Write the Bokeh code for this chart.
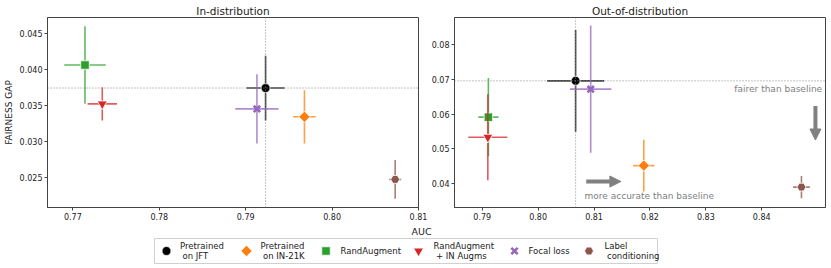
from bokeh.plotting import figure
from bokeh.models import Range1d, FixedTicker, Span, Label, Arrow, NormalHead
from bokeh.layouts import column, row
from bokeh.embed import file_html
from bokeh.resources import INLINE
from bokeh.core.properties import value

# ---------------- data ----------------
methods = ["Pretrained on JFT", "Pretrained on IN-21K", "RandAugment",
           "RandAugment + IN Augms", "Focal loss", "Label conditioning"]
legend_lines = [["Pretrained", "on JFT"], ["Pretrained", "on IN-21K"], ["RandAugment"],
                ["RandAugment", "+ IN Augms"], ["Focal loss"], ["Label", "conditioning"]]

# In-distribution
auc_id = [0.7923, 0.7968, 0.7714, 0.7734, 0.7913, 0.8073]
auc_id_err = [0.0022, 0.0013, 0.0024, 0.0017, 0.0025, 0.0007]
gap_id = [0.0374, 0.0334, 0.0406, 0.0352, 0.0345, 0.0247]
gap_id_err = [0.0045, 0.0037, 0.0054, 0.0023, 0.0048, 0.0027]

# Out-of-distribution
auc_ood = [0.8067, 0.8189, 0.7911, 0.7910, 0.8094, 0.8471]
auc_ood_err = [0.0051, 0.0019, 0.0018, 0.0035, 0.0037, 0.0015]
gap_ood = [0.0696, 0.0451, 0.0591, 0.0533, 0.0672, 0.0389]
gap_ood_err = [0.0147, 0.0075, 0.0113, 0.0124, 0.0184, 0.0032]

id_x_ticks = [0.77, 0.78, 0.79, 0.80, 0.81]
id_x_labels = ["0.77", "0.78", "0.79", "0.80", "0.81"]
id_y_ticks = [0.025, 0.030, 0.035, 0.040, 0.045]
id_y_labels = ["0.025", "0.030", "0.035", "0.040", "0.045"]
ood_x_ticks = [0.79, 0.80, 0.81, 0.82, 0.83, 0.84]
ood_x_labels = ["0.79", "0.80", "0.81", "0.82", "0.83", "0.84"]
ood_y_ticks = [0.04, 0.05, 0.06, 0.07, 0.08]
ood_y_labels = ["0.04", "0.05", "0.06", "0.07", "0.08"]

# ---------------- styles ----------------
colors = ["#000000", "#ff7f0e", "#2ca02c", "#d62728", "#9467bd", "#8c564b"]
markers = ["circle", "square", "square", "inverted_triangle", "x", "hex"]
angles = [0, 0.7854, 0, 0, 0, 0]
sizes = [9, 8, 8.5, 10, 9, 9]
FONT = "DejaVu Sans"
AX = "#444444"
TXT = "#222222"


def make_panel(title, auc, auc_err, gap, gap_err, xr, yr, xt, xl, yt, yl,
               width, mbl, mbr, ylabel=None):
    p = figure(width=width, height=224, x_range=Range1d(*xr), y_range=Range1d(*yr),
               output_backend="svg", toolbar_location=None,
               min_border_left=mbl, min_border_right=mbr,
               min_border_top=17, min_border_bottom=17, title=title)
    p.title.align = "center"
    p.title.text_font = FONT
    p.title.text_font_size = "10.5px"
    p.title.text_font_style = "normal"
    p.title.text_color = TXT
    p.title.standoff = 2
    p.title.offset = 0
    p.xgrid.visible = False
    p.ygrid.visible = False
    p.outline_line_color = AX
    p.outline_line_width = 1
    p.xaxis.ticker = FixedTicker(ticks=xt)
    p.yaxis.ticker = FixedTicker(ticks=yt)
    p.xaxis.major_label_overrides = {t: s for t, s in zip(xt, xl)}
    p.yaxis.major_label_overrides = {t: s for t, s in zip(yt, yl)}
    for ax in (p.xaxis[0], p.yaxis[0]):
        ax.minor_tick_line_color = None
        ax.major_tick_in = 0
        ax.major_tick_out = 3
        ax.axis_line_color = AX
        ax.major_tick_line_color = AX
        ax.major_label_text_font = FONT
        ax.major_label_text_font_size = "8px"
        ax.major_label_text_color = TXT
        ax.major_label_standoff = 2
    if ylabel:
        p.yaxis.axis_label = ylabel
        p.yaxis.axis_label_text_font = FONT
        p.yaxis.axis_label_text_font_size = "9px"
        p.yaxis.axis_label_text_font_style = "normal"
        p.yaxis.axis_label_text_color = TXT
        p.yaxis.axis_label_standoff = 3

    for i in range(len(auc)):
        c = colors[i]
        p.segment(x0=[auc[i] - auc_err[i]], y0=[gap[i]], x1=[auc[i] + auc_err[i]], y1=[gap[i]],
                  line_color=c, line_width=1.6, line_alpha=0.75)
        p.segment(x0=[auc[i]], y0=[gap[i] - gap_err[i]], x1=[auc[i]], y1=[gap[i] + gap_err[i]],
                  line_color=c, line_width=1.6, line_alpha=0.75)
        if markers[i] == "x":
            p.scatter([auc[i]], [gap[i]], marker="x", size=sizes[i], line_color=c, line_width=2.6)
        else:
            p.scatter([auc[i]], [gap[i]], marker=markers[i], size=sizes[i], angle=angles[i],
                      fill_color=c, line_color="white", line_width=0.8)

    # baseline (first method) reference lines
    p.add_layout(Span(location=auc[0], dimension="height", line_color="#888888",
                      line_dash="1 2", line_width=1, level="overlay"))
    p.add_layout(Span(location=gap[0], dimension="width", line_color="#888888",
                      line_dash="1 2", line_width=1, level="overlay"))
    return p


p1 = make_panel("In-distribution", auc_id, auc_id_err, gap_id, gap_id_err,
                (0.76706, 0.81), (0.0208, 0.0472), id_x_ticks, id_x_labels,
                id_y_ticks, id_y_labels, width=428, mbl=47, mbr=10, ylabel="FAIRNESS GAP")
p2 = make_panel("Out-of-distribution", auc_ood, auc_ood_err, gap_ood, gap_ood_err,
                (0.78504, 0.8514), (0.033, 0.0879), ood_x_ticks, ood_x_labels,
                ood_y_ticks, ood_y_labels, width=403, mbl=26, mbr=6)

# annotations on OOD panel
p2.add_layout(Label(x=0.8508, y=0.0671, text="fairer than baseline", text_align="right",
                    text_baseline="middle", text_font=FONT, text_font_size="9px",
                    text_color="#808080"))
p2.add_layout(Label(x=0.8083, y=0.0362, text="more accurate than baseline", text_align="left",
                    text_baseline="middle", text_font=FONT, text_font_size="9px",
                    text_color="#808080"))
p2.add_layout(Arrow(end=NormalHead(size=11, fill_color="#808080", line_color="#808080"),
                    x_start=0.8086, y_start=0.0405, x_end=0.8148, y_end=0.0405,
                    line_color="#808080", line_width=4))
p2.add_layout(Arrow(end=NormalHead(size=11, fill_color="#808080", line_color="#808080"),
                    x_start=0.8496, y_start=0.0623, x_end=0.8496, y_end=0.0525,
                    line_color="#808080", line_width=4))

# ---------------- legend strip ----------------
lg = figure(width=831, height=44, x_range=Range1d(0, 831), y_range=Range1d(44, 0),
            output_backend="svg", toolbar_location=None, min_border=0)
lg.axis.visible = False
lg.xgrid.visible = False
lg.ygrid.visible = False
lg.outline_line_color = None

lg.text(x=[421], y=[7], text=["AUC"], text_align="center", text_baseline="middle",
        text_font=value(FONT), text_font_size="9.5px", text_color=TXT)

box_x0, box_x1, box_y0, box_y1 = 154, 657, 14, 39
lg.quad(left=[box_x0], right=[box_x1], top=[box_y0], bottom=[box_y1],
        fill_color="white", line_color="#d0d0d0", line_width=1)
mid = (box_y0 + box_y1) / 2
marker_x = [166, 246, 325.5, 418, 514, 588.5]
text_x = [179.5, 260, 340, 433, 528, 604]
for i in range(len(methods)):
    c = colors[i]
    if markers[i] == "x":
        lg.scatter([marker_x[i]], [mid], marker="x", size=sizes[i], line_color=c, line_width=2.6)
    else:
        lg.scatter([marker_x[i]], [mid], marker=markers[i], size=sizes[i], angle=-angles[i],
                   fill_color=c, line_color="white", line_width=0.8)
    lines = legend_lines[i]
    if len(lines) == 1:
        lg.text(x=[text_x[i]], y=[mid], text=lines, text_align="left", text_baseline="middle",
                text_font=value(FONT), text_font_size="8.5px", text_color=TXT)
    else:
        lg.text(x=[text_x[i], text_x[i] + 2.5], y=[mid - 4.7, mid + 4.7], text=lines,
                text_align="left", text_baseline="middle",
                text_font=value(FONT), text_font_size="8.5px", text_color=TXT)

layout = column(row(p1, p2), lg)
open("out.html", "w").write(file_html(layout, INLINE))
